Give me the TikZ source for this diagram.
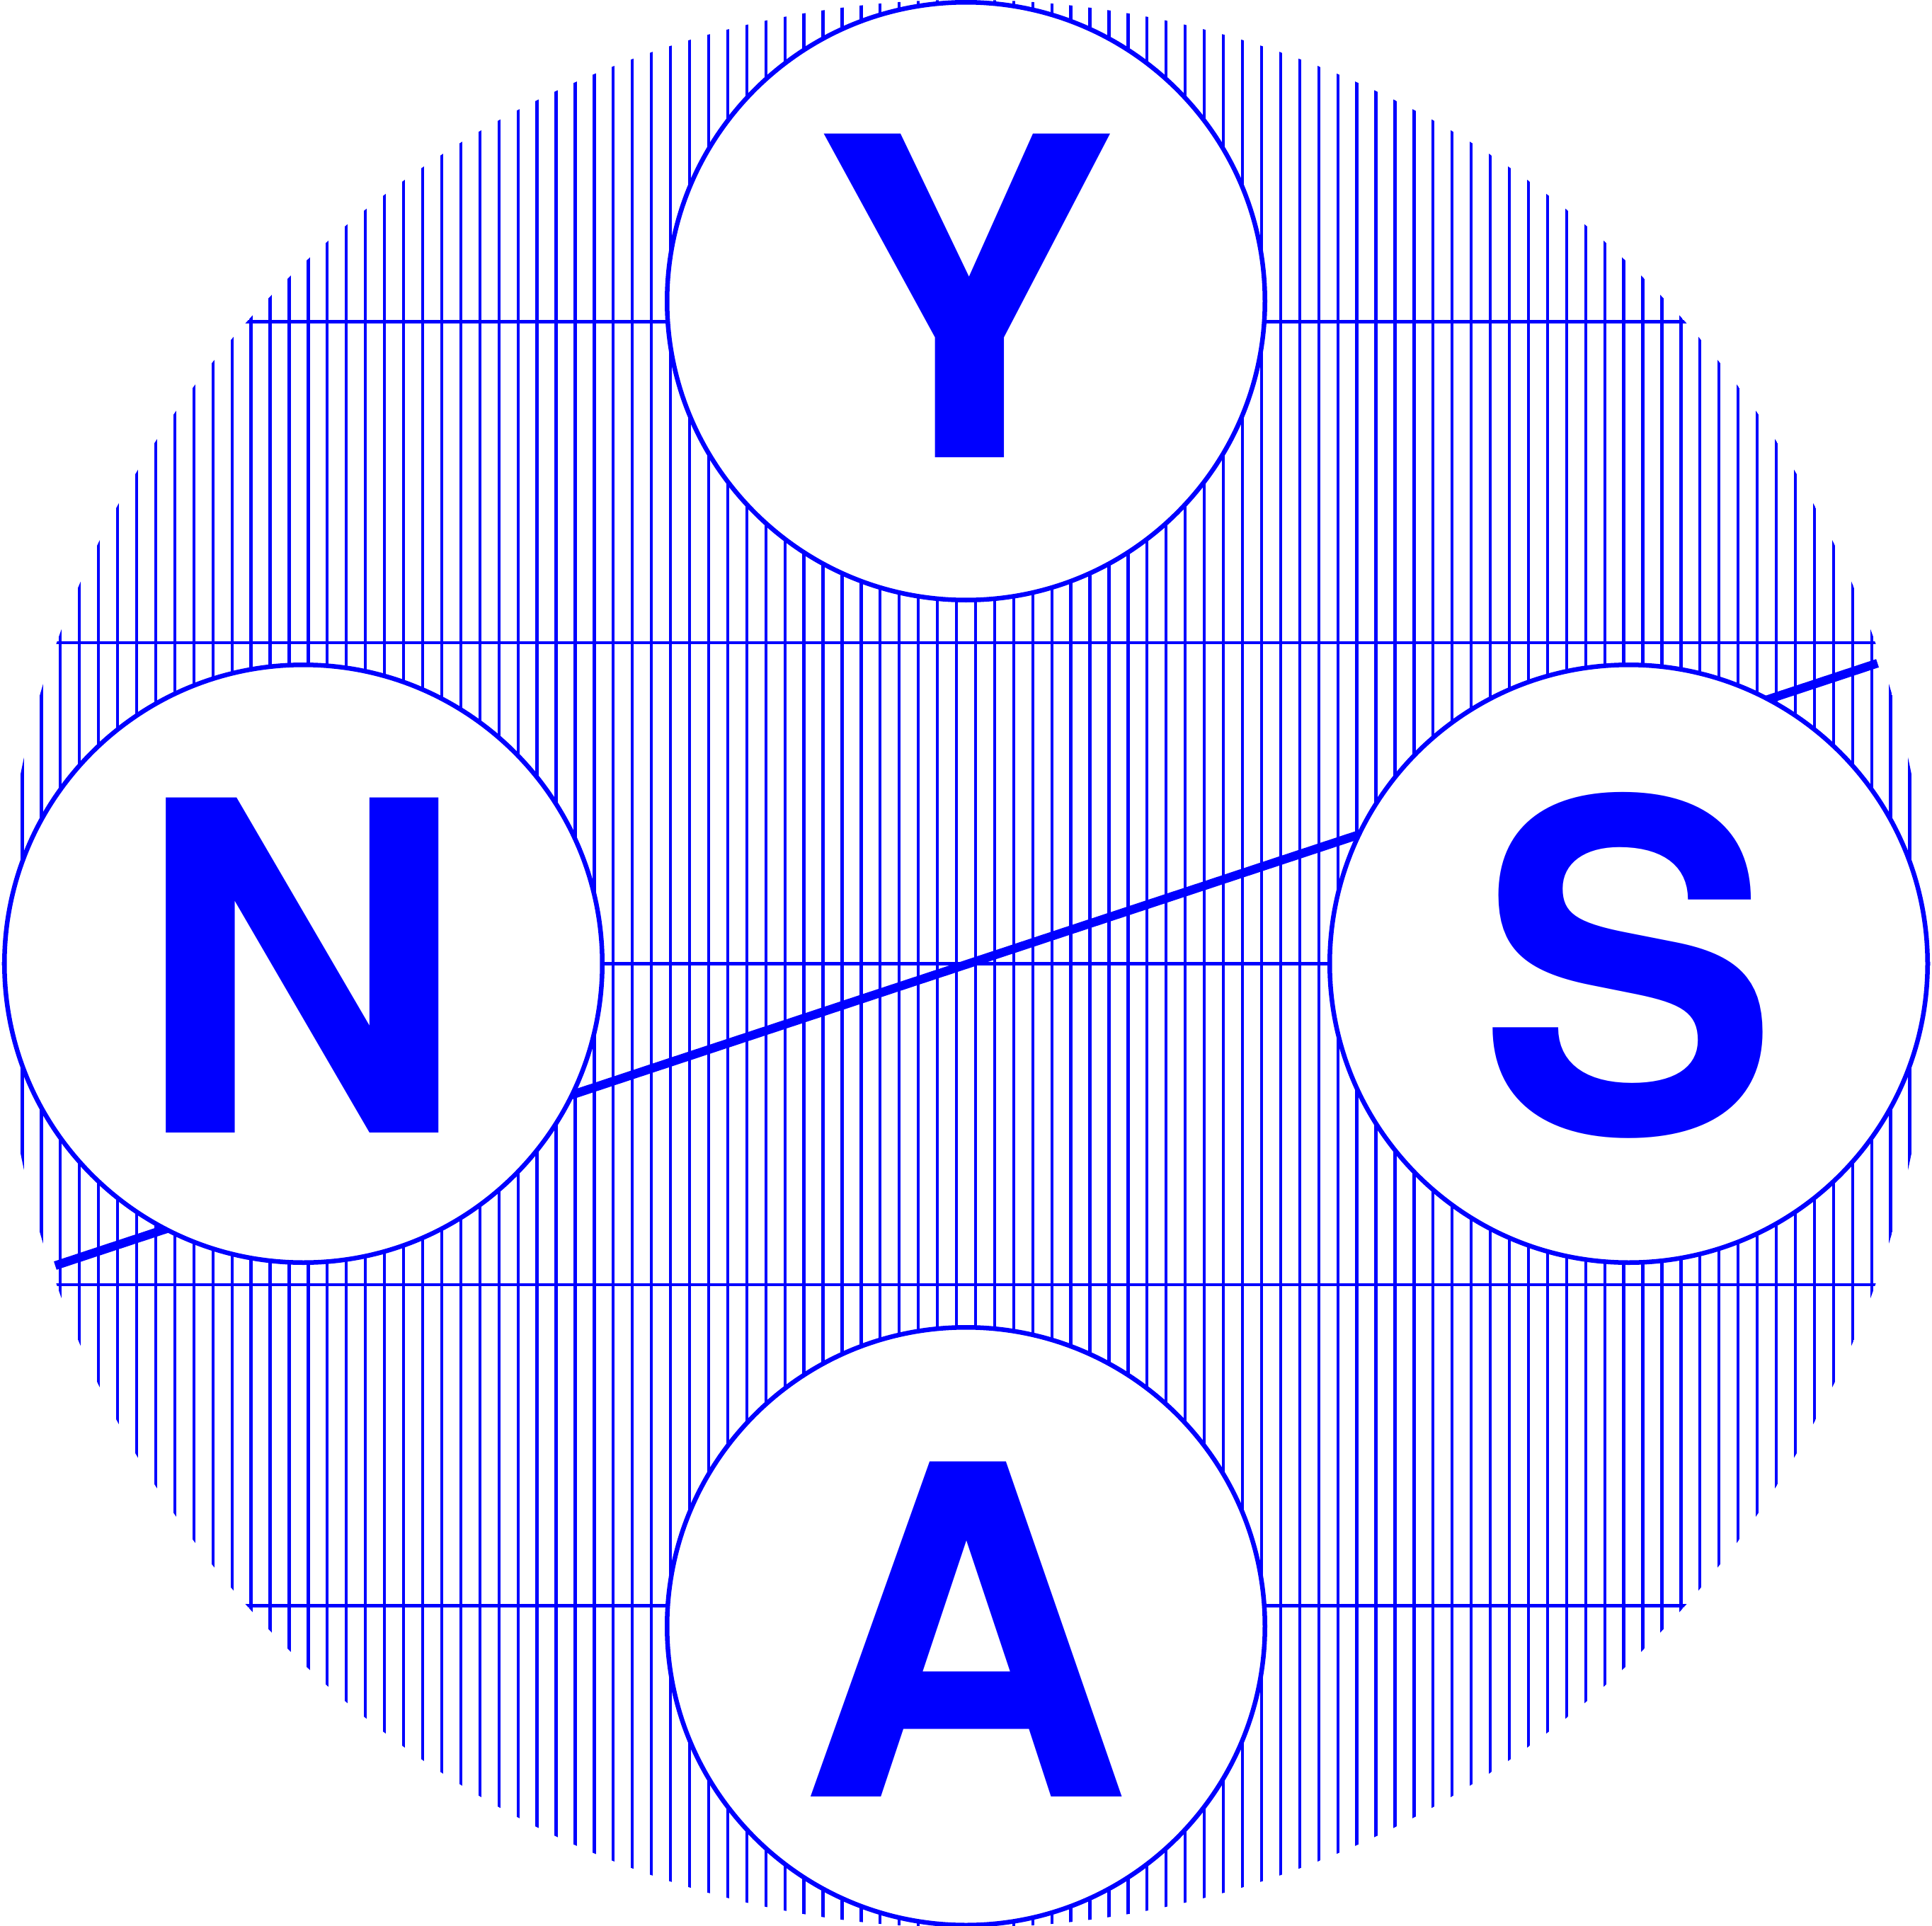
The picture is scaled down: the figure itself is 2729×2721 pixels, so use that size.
\documentclass[tikz,border=0pt]{standalone}
\usepackage{graphicx}
\usepackage{fontspec}
\newfontfamily\heros{TeX Gyre Heros}
\definecolor{nblue}{RGB}{0,0,255}
\tikzset{
  hatch/.style={draw=nblue, line width=1.22pt},
  bar/.style={draw=nblue, line width=3.5pt},
  ring/.style={circle, draw=nblue, fill=white, line width=1.85pt, minimum size=8.44cm, inner sep=0pt},
  letter/.style={text=nblue, inner sep=0pt, font=\heros\bfseries\fontsize{184.66pt}{200pt}\selectfont},
}
\begin{document}
\begin{tikzpicture}[x=0.01cm, y=-0.01cm]
\useasboundingbox (0,0) rectangle (2729,2721);
\coordinate (O) at (1364.5,1361.5);
\begin{scope}
  \clip (O) circle[radius=13.61cm];
  \foreach \k in {0,...,49} {
    \draw[hatch] ({1364.5+13.47+26.93*\k},0) -- ++(0,2721);
    \draw[hatch] ({1364.5-13.47-26.93*\k},0) -- ++(0,2721);
  }
  \foreach \k in {-2,...,2} {
    \draw[hatch] (0,{1361.5+453.5*\k}) -- ++(2729,0);
  }
\end{scope}
\coordinate (barL) at (78,1788);
\coordinate (barR) at (2652,937);
\draw[bar] (barL) -- (barR);
\node[ring] (cY) at (1364.5,425.5) {};
\node[ring] (cN) at (428.5,1361.5) {};
\node[ring] (cS) at (2300.5,1361.5) {};
\node[ring] (cA) at (1364.5,2297.5) {};
\node[letter, font=\heros\bfseries\fontsize{178.4pt}{200pt}\selectfont] (Y) at (1363,418) {\scalebox{1.035}[1]{Y}};
\node[letter] (N) at (424.5,1364) {N};
\node[letter] (S) at (2300,1364) {\scalebox{0.977}[1]{S}};
\node[letter] (A) at (1362.5,2302) {A};
\end{tikzpicture}
\end{document}
